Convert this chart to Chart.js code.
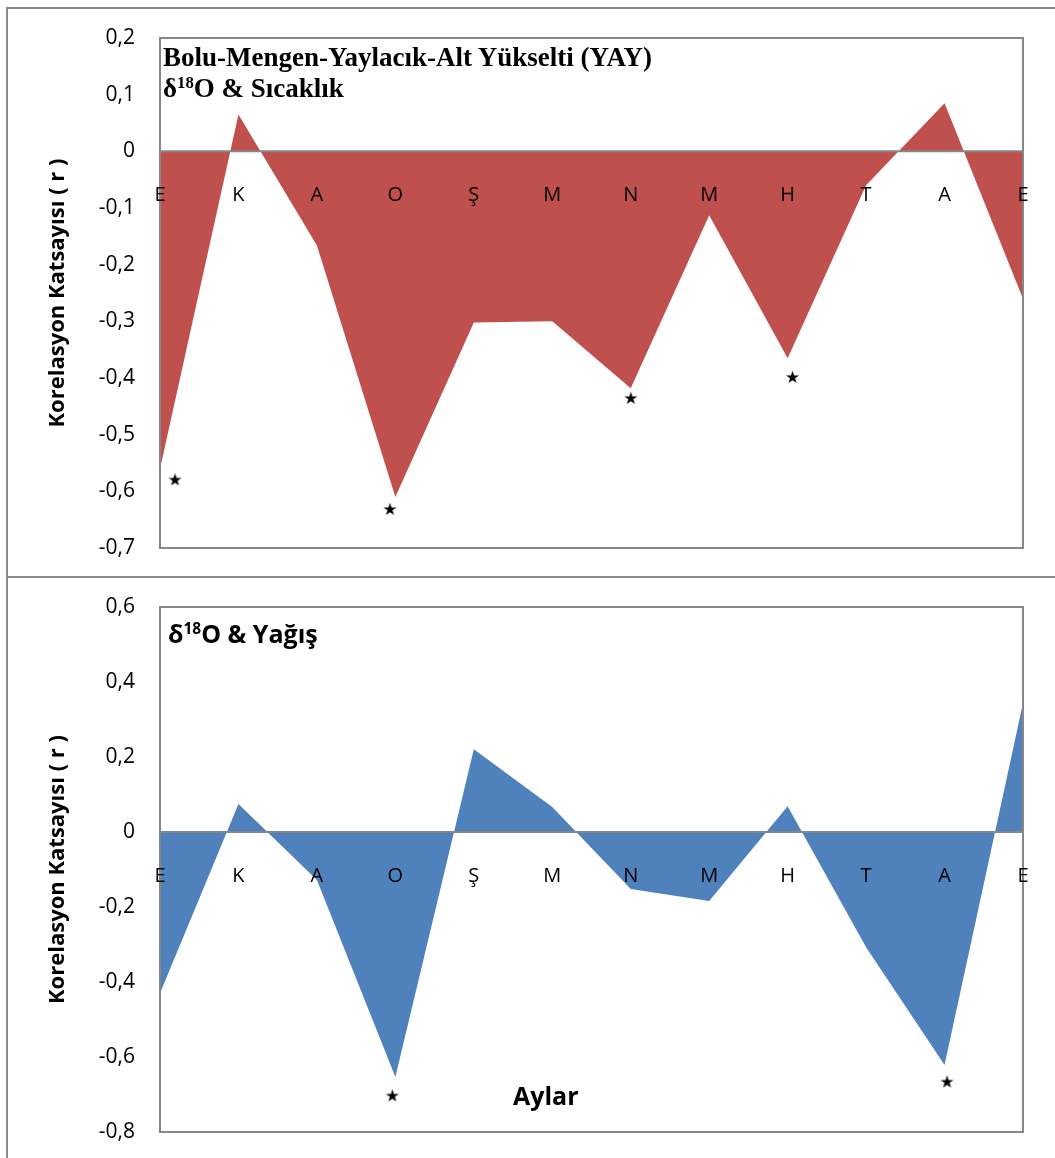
<!DOCTYPE html>
<html lang="tr">
<head>
<meta charset="utf-8">
<title>Bolu-Mengen-Yaylacık-Alt Yükselti (YAY)</title>
<script src="https://cdn.jsdelivr.net/npm/chart.js@4.4.1/dist/chart.umd.min.js"></script>
<style>
  html, body { margin: 0; padding: 0; background: #fff; }
  #page { position: relative; width: 1055px; height: 1158px; overflow: hidden; }
  canvas { position: absolute; left: 0; }
  #c1 { top: 0; }
  #c2 { top: 578px; }
  .rule { position: absolute; background: #8a8a8a; }
  .lbl { position: absolute; white-space: nowrap; color: #000; line-height: 1; }
  .serif { font-family: "Liberation Serif", "Times New Roman", serif; font-weight: bold; font-size: 27px; }
  .sans { font-family: "Open Sans", sans-serif; font-weight: bold; }
  sup { font-size: 62%; vertical-align: 0; position: relative; top: -0.55em; }
</style>
</head>
<body>
<div id="page">
  <canvas id="c1" width="1055" height="577"></canvas>
  <canvas id="c2" width="1055" height="580"></canvas>

  <!-- frame around the two panels -->
  <div class="rule" style="left:6px; top:7px; width:1049px; height:2px;"></div>
  <div class="rule" style="left:6px; top:7px; width:2px; height:1151px;"></div>
  <div class="rule" style="left:6px; top:576px; width:1049px; height:2px;"></div>

  <div class="lbl serif" style="left:163px; top:44px;">Bolu-Mengen-Yaylacık-Alt Yükselti (YAY)</div>
  <div class="lbl serif" style="left:163px; top:75px;">δ<sup>18</sup>O &amp; Sıcaklık</div>
  <div class="lbl sans" style="left:168px; top:621px; font-size:25px;">δ<sup>18</sup>O &amp; Yağış</div>
  <div class="lbl sans" style="left:513px; top:1083px; font-size:25px;">Aylar</div>
</div>

<script>
// === Data ===
const months = ['E', 'K', 'A', 'O', 'Ş', 'M', 'N', 'M', 'H', 'T', 'A', 'E'];

// δ18O - sıcaklık korelasyonu (r)
const tempR = [-0.56, 0.065, -0.166, -0.61, -0.302, -0.300, -0.418, -0.113, -0.365, -0.06, 0.085, -0.26];
// δ18O - yağış korelasyonu (r)
const rainR = [-0.43, 0.075, -0.128, -0.653, 0.221, 0.067, -0.152, -0.184, 0.069, -0.307, -0.621, 0.344];

// anlamlı korelasyon yıldızları (ay indeksi, r)
const tempStarMonth = [0.19, 2.93, 6.0, 8.06];
const tempStarR = [-0.58, -0.632, -0.436, -0.399];
const rainStarMonth = [2.96, 10.03];
const rainStarR = [-0.704, -0.667];

// y ekseni aralıkları
const tempAxis = { min: -0.7, max: 0.2, step: 0.1 };
const rainAxis = { min: -0.8, max: 0.6, step: 0.2 };

// === Config ===
const RED = '#C0504D';
const BLUE = '#4F81BD';
const GRAY = '#868686';

Chart.defaults.font.family = '"Open Sans", sans-serif';
Chart.defaults.color = '#000';

// yıldız işareti (pointStyle olarak kullanılıyor)
function starImage(size) {
    const c = document.createElement('canvas');
    c.width = size + 4;
    c.height = size + 4;
    const g = c.getContext('2d');
    g.fillStyle = '#000';
    g.font = size + 'px "DejaVu Sans"';
    g.textAlign = 'center';
    g.textBaseline = 'middle';
    g.fillText('★', c.width / 2, c.height / 2 + 1);
    return c;
}
const star = starImage(17);

function fmtTick(v) {
    const r = Math.round(v * 10) / 10;
    return r === 0 ? '0' : String(r).replace('.', ',');
}

// çerçeve, sıfır çizgisi ve ay harfleri
const axisFrame = {
    id: 'axisFrame',
    afterDatasetsDraw(chart) {
        const { ctx, chartArea: a, scales: { x, y } } = chart;
        const y0 = y.getPixelForValue(0);
        ctx.save();
        ctx.strokeStyle = GRAY;
        ctx.lineWidth = 2;
        ctx.beginPath();
        ctx.moveTo(a.left, y0);
        ctx.lineTo(a.right, y0);
        ctx.stroke();
        ctx.strokeRect(a.left, a.top, a.width, a.height);

        ctx.fillStyle = '#000';
        ctx.font = '20px "Open Sans"';
        ctx.textAlign = 'center';
        ctx.textBaseline = 'middle';
        x.getLabels().forEach((m, i) => {
            ctx.fillText(m, x.getPixelForValue(i), y0 + 44);
        });
        ctx.restore();
    }
};

function buildChart(canvasId, values, color, starMonth, starR, axis, padding) {
    const stars = starMonth.map((m, i) => ({ x: m, y: starR[i] }));
    return new Chart(document.getElementById(canvasId), {
        type: 'line',
        data: {
            labels: months,
            datasets: [{
                type: 'scatter',
                data: stars,
                xAxisID: 'xs',
                pointStyle: star,
                pointRadius: 9,
                showLine: false
            }, {
                data: values,
                fill: 'origin',
                backgroundColor: color,
                borderWidth: 0,
                pointRadius: 0,
                tension: 0
            }]
        },
        options: {
            responsive: false,
            animation: false,
            events: [],
            layout: { padding: padding },
            plugins: { legend: { display: false }, tooltip: { enabled: false } },
            scales: {
                x: { type: 'category', offset: false, display: false },
                xs: { type: 'linear', min: 0, max: months.length - 1, display: false },
                y: {
                    min: axis.min,
                    max: axis.max,
                    // sabit eksen genişliği; etiket taşması alanı küçültmesin
                    afterFit: s => {
                        s.width = 160;
                        s.paddingTop = 0;
                        s.paddingBottom = 0;
                    },
                    grid: { display: false, drawTicks: false },
                    border: { display: false },
                    ticks: {
                        stepSize: axis.step,
                        padding: 25,
                        font: { size: 21 },
                        callback: fmtTick
                    },
                    title: {
                        display: true,
                        text: 'Korelasyon Katsayısı ( r )',
                        font: { size: 22, weight: 'bold' },
                        padding: { top: 45, bottom: 0 }
                    }
                }
            }
        },
        plugins: [axisFrame]
    });
}

document.addEventListener('DOMContentLoaded', () => {
    buildChart('c1', tempR, RED, tempStarMonth, tempStarR, tempAxis,
        { top: 38, right: 32, bottom: 29, left: 0 });
    buildChart('c2', rainR, BLUE, rainStarMonth, rainStarR, rainAxis,
        { top: 29, right: 32, bottom: 26, left: 0 });
});
</script>
</body>
</html>
